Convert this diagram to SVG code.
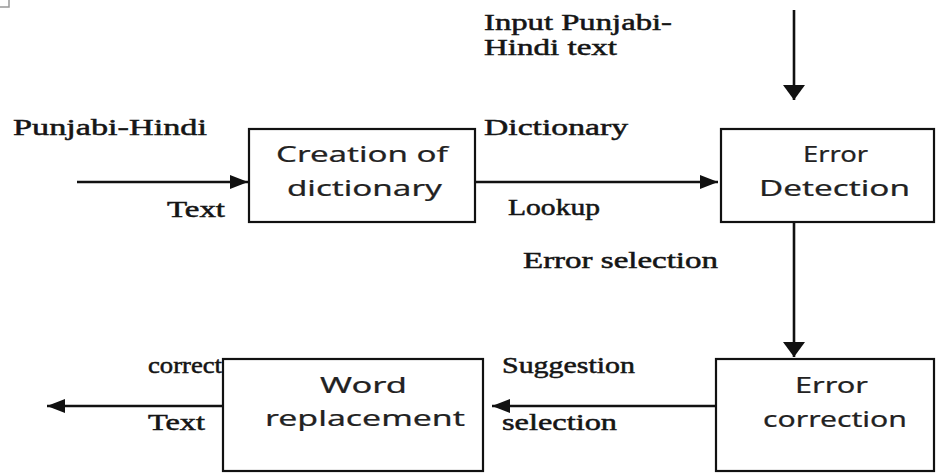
<svg xmlns="http://www.w3.org/2000/svg" width="945" height="473" viewBox="0 0 945 473">
<style>
.box{fill:#fff;stroke:#111;stroke-width:2.2}
.bt{font-family:"Noto Sans","DejaVu Sans",sans-serif;font-size:21px;fill:#222;stroke:#222;stroke-width:0.2}
.lb{font-family:"Liberation Serif","Times New Roman",serif;font-size:23px;fill:#151515;stroke:#151515;stroke-width:0.5}
.cn{fill:none;stroke:#111;stroke-width:2.6}
</style>
<defs>
<marker id="ah" markerUnits="userSpaceOnUse" markerWidth="20" markerHeight="16" refX="18" refY="7" orient="auto">
<path d="M0,0 L18,7 L0,14 Z" fill="#111"/>
</marker>
<marker id="av" markerUnits="userSpaceOnUse" markerWidth="17" markerHeight="24" refX="15" refY="11" orient="auto">
<path d="M0,0 L15,11 L0,22 Z" fill="#111"/>
</marker>
</defs>
<rect x="0" y="0" width="945" height="473" fill="#fff"/>
<rect x="-3" y="-3" width="12" height="10" fill="#fff" stroke="#999" stroke-width="1.5"/>

<g id="connectors">
<line class="cn" x1="77" y1="182" x2="248" y2="182" marker-end="url(#ah)"/>
<line class="cn" x1="475" y1="182" x2="718" y2="182" marker-end="url(#ah)"/>
<line class="cn" x1="794" y1="10" x2="794" y2="100" marker-end="url(#av)"/>
<line class="cn" x1="794" y1="222" x2="794" y2="357" marker-end="url(#av)"/>
<line class="cn" x1="718" y1="406" x2="492" y2="406" marker-end="url(#ah)"/>
<line class="cn" x1="224" y1="406" x2="47" y2="406" marker-end="url(#ah)"/>
</g>

<g id="node-creation">
<rect class="box" x="249" y="129" width="226" height="93"/>
<text class="bt" x="276" y="162" textLength="172" lengthAdjust="spacingAndGlyphs">Creation of</text>
<text class="bt" x="287" y="196" textLength="155" lengthAdjust="spacingAndGlyphs">dictionary</text>
</g>

<g id="node-detection">
<rect class="box" x="721" y="129" width="213" height="93"/>
<text class="bt" x="803" y="162" textLength="65" lengthAdjust="spacingAndGlyphs">Error</text>
<text class="bt" x="759" y="196" textLength="151" lengthAdjust="spacingAndGlyphs">Detection</text>
</g>

<g id="node-correction">
<rect class="box" x="716" y="359" width="218" height="112"/>
<text class="bt" x="795" y="393" textLength="73" lengthAdjust="spacingAndGlyphs">Error</text>
<text class="bt" x="763" y="427" textLength="144" lengthAdjust="spacingAndGlyphs">correction</text>
</g>

<g id="node-replacement">
<rect class="box" x="223" y="359" width="260" height="112"/>
<text class="bt" x="320" y="393" textLength="87" lengthAdjust="spacingAndGlyphs">Word</text>
<text class="bt" x="265" y="426" textLength="200" lengthAdjust="spacingAndGlyphs">replacement</text>
</g>

<g id="labels">
<text class="lb" x="13" y="135" textLength="194" lengthAdjust="spacingAndGlyphs">Punjabi-Hindi</text>
<text class="lb" x="167" y="217" textLength="58" lengthAdjust="spacingAndGlyphs">Text</text>
<text class="lb" x="484" y="30" textLength="188" lengthAdjust="spacingAndGlyphs">Input Punjabi-</text>
<text class="lb" x="484" y="55" textLength="133" lengthAdjust="spacingAndGlyphs">Hindi text</text>
<text class="lb" x="484" y="135" textLength="144" lengthAdjust="spacingAndGlyphs">Dictionary</text>
<text class="lb" x="508" y="215" textLength="92" lengthAdjust="spacingAndGlyphs">Lookup</text>
<text class="lb" x="523" y="268" textLength="195" lengthAdjust="spacingAndGlyphs">Error selection</text>
<text class="lb" x="502" y="373" textLength="133" lengthAdjust="spacingAndGlyphs">Suggestion</text>
<text class="lb" x="502" y="430" textLength="115" lengthAdjust="spacingAndGlyphs">selection</text>
<text class="lb" x="148" y="373" font-size="21" textLength="74" lengthAdjust="spacingAndGlyphs">correct</text>
<text class="lb" x="148" y="430" textLength="57" lengthAdjust="spacingAndGlyphs">Text</text>
</g>
</svg>
